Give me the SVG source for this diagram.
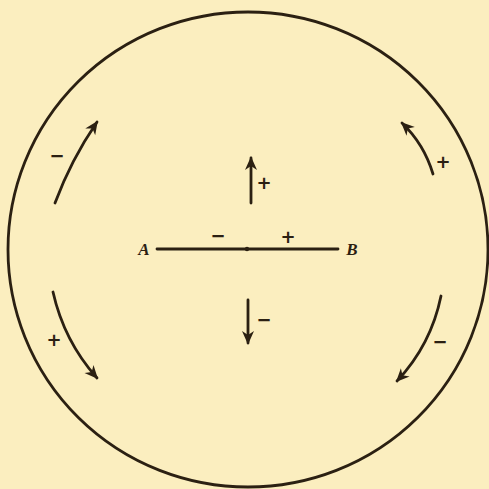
<svg xmlns="http://www.w3.org/2000/svg" width="489" height="489" viewBox="0 0 489 489">
<style>
.ln{fill:none;stroke:#2b2012;stroke-width:2.8;stroke-linecap:round}
.sg{font-family:"DejaVu Sans",sans-serif;font-size:18px;fill:#2b2012;text-anchor:middle;font-weight:bold}
.lb{font-family:"Liberation Serif",serif;font-style:italic;font-weight:bold;font-size:17px;fill:#2b2012;text-anchor:middle}
</style>
<defs>
<marker id="ah" markerUnits="userSpaceOnUse" markerWidth="18" markerHeight="14" viewBox="-14 -7 16 14" refX="0" refY="0" orient="auto">
<path d="M1.5,0 L-12,-6 L-8,0 L-12,6 Z" fill="#2b2012"/>
</marker>
</defs>
<rect width="489" height="489" fill="#fbeebf"/>
<g id="circle">
<ellipse cx="248" cy="249.5" rx="240" ry="237.5" class="ln"/>
</g>
<g id="axis-AB">
<line x1="157" y1="249" x2="338" y2="249" class="ln" stroke-width="2.6"/>
<circle cx="247" cy="249" r="2.2" fill="#2b2012"/>
<text x="144" y="255" class="lb">A</text>
<text x="352" y="255" class="lb">B</text>
<text x="218" y="242" class="sg">−</text>
<text x="288" y="243" class="sg">+</text>
</g>
<g id="connectors">
<line x1="251" y1="203" x2="251" y2="158" class="ln" marker-end="url(#ah)"/>
<line x1="248" y1="300" x2="248" y2="343" class="ln" marker-end="url(#ah)"/>
<path d="M55,203 Q71,160 97,122" class="ln" marker-end="url(#ah)"/>
<path d="M53,292 Q64,341 97,378" class="ln" marker-end="url(#ah)"/>
<path d="M433,174 Q424,144 402,123" class="ln" marker-end="url(#ah)"/>
<path d="M441,296 Q431,345 397,381" class="ln" marker-end="url(#ah)"/>
</g>
<g id="labels">
<text x="264" y="189" class="sg">+</text>
<text x="264" y="326" class="sg">−</text>
<text x="57" y="162" class="sg">−</text>
<text x="54" y="346" class="sg">+</text>
<text x="443" y="168" class="sg">+</text>
<text x="440" y="348" class="sg">−</text>
</g>
</svg>
